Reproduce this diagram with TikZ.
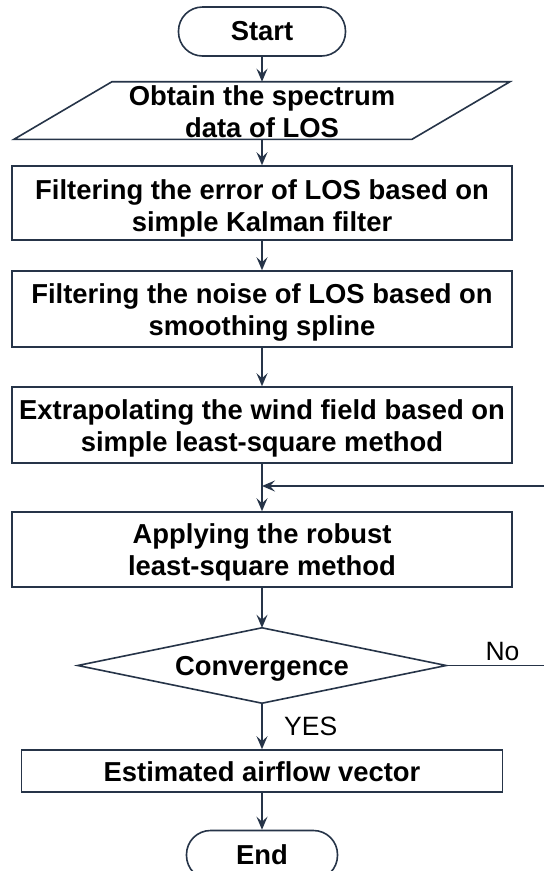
\documentclass[tikz,border=0pt]{standalone}
\usepackage{fontspec}
\setmainfont{Liberation Sans}
\usetikzlibrary{arrows.meta,calc}
\definecolor{edge}{RGB}{38,52,72}
% invisible rules fixing the ascent of the first line and the descent of the last one
\newcommand\headstrut[1][26.5pt]{\rule{0pt}{#1}}
\newcommand\footstrut[1][5.5pt]{\rule[-#1]{0pt}{#1}}
\begin{document}
\begin{tikzpicture}[x=1pt,y=-1pt,
  every node/.style={font=\bfseries\fontsize{27.4}{32}\selectfont, align=center, inner sep=0pt, text=black},
  box/.style={draw=edge, line width=1.6pt, minimum width=500pt, minimum height=75pt},
  term/.style={draw=edge, line width=1.6pt, rounded corners=24pt, minimum height=49pt},
  outline/.style={draw=edge, line width=1.6pt, line join=miter},
  flow/.style={draw=edge, line width=1.5pt, -{Stealth[length=13pt,width=11pt,inset=5pt]}},
  lbl/.style={font=\fontsize{26.5}{30}\selectfont}
]
\useasboundingbox (0,0) rectangle (544,871);
\fill[white] (0,0) rectangle (544,871);

% terminals and process steps
\node[term, minimum width=167pt] (start) at (262,31.5) {Start};

% input step: parallelogram drawn around its text
\node (data) at (262,110.5) {\headstrut Obtain the spectrum\\data of LOS\footstrut};
\coordinate (dataN) at ($(data.center)+(0,-28.8)$);
\coordinate (dataS) at ($(data.center)+(0,28.8)$);
\draw[outline] ($(dataN)+(-150,0)$) -- ($(dataN)+(248,0)$)
  -- ($(dataS)+(150,0)$) -- ($(dataS)+(-248,0)$) -- cycle;

\node[box, minimum height=74pt] (kalman) at (262,203)
  {\headstrut[30.5pt]Filtering the error of LOS based on\\simple Kalman filter\footstrut[1.5pt]};
\node[box, minimum height=76pt] (spline) at (262,309)
  {\headstrut Filtering the noise of LOS based on\\smoothing spline\footstrut};
\node[box, minimum height=76pt] (extra) at (262,425)
  {\headstrut Extrapolating the wind field based on\\simple least-square method\footstrut};
\node[box, minimum height=75pt] (robust) at (262,549.5)
  {\headstrut Applying the robust\\least-square method\footstrut};

% decision
\node[minimum width=368pt, minimum height=75pt] (conv) at (262,665.5) {\headstrut Convergence\footstrut};
\draw[outline] (conv.north) -- (conv.east) -- (conv.south) -- (conv.west) -- cycle;

\node[box, minimum width=481pt, minimum height=42pt] (est) at (262,771) {\headstrut Estimated airflow vector\footstrut};
\node[term, minimum width=151pt] (end) at (262,855) {End};

% connectors
\coordinate (join) at (262,486);
\draw[flow] (start.south) -- (dataN);
\draw[flow] (dataS) -- (kalman.north);
\draw[flow] (kalman.south) -- (spline.north);
\draw[flow] (spline.south) -- (extra.north);
\draw[flow] (extra.south) -- (robust.north);
\draw[flow] (conv.east) -- ++(104,0) |- (join);
\draw[flow] (robust.south) -- (conv.north);
\draw[flow] (conv.south) -- (est.north);
\draw[flow] (est.south) -- (end.north);

% branch labels
\node[lbl] (no) at (502.5,652) {No};
\node[lbl, anchor=west] (yes) at (284,726) {YES};
\end{tikzpicture}
\end{document}
